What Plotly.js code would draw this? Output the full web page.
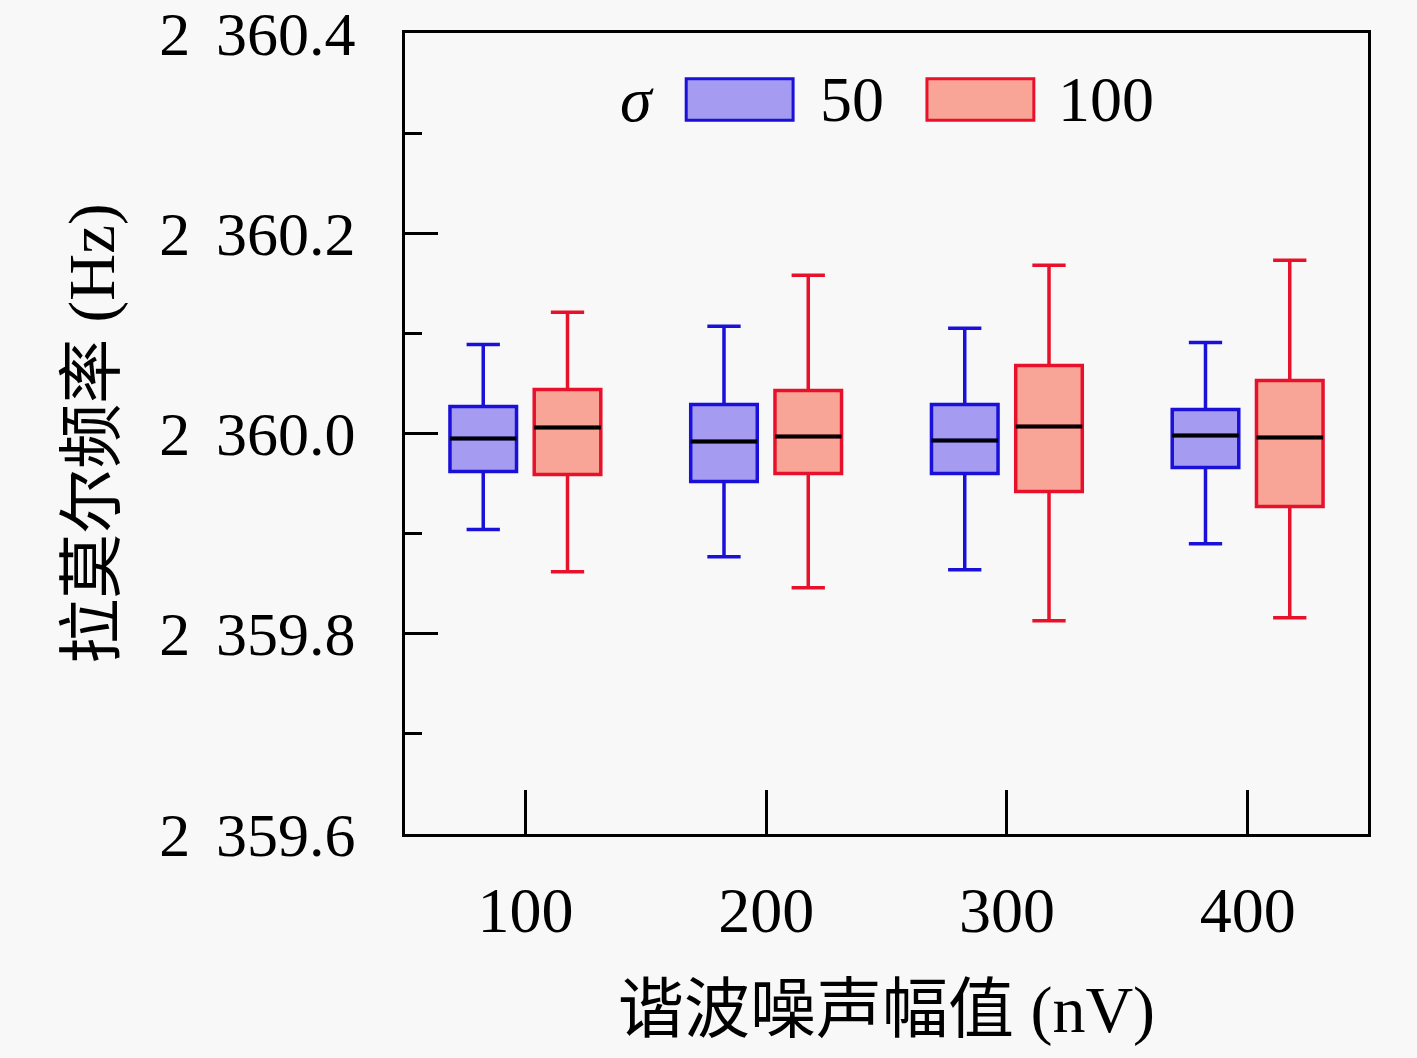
<!DOCTYPE html>
<html>
<head>
<meta charset="utf-8">
<script src="https://cdn.plot.ly/plotly-3.0.1.min.js"></script>
<style>
  html, body { margin: 0; padding: 0; background: #f8f8f8; }
  #chart { width: 1417px; height: 1058px; }
</style>
</head>
<body>
<div id="chart"></div>
<script>
// harmonic noise amplitude (nV)
const categories = ['100', '200', '300', '400'];

// sigma = 50
const s50Lower  = [2359.904, 2359.877, 2359.864, 2359.890];
const s50Q1     = [2359.962, 2359.952, 2359.960, 2359.966];
const s50Median = [2359.995, 2359.992, 2359.993, 2359.998];
const s50Q3     = [2360.027, 2360.029, 2360.029, 2360.024];
const s50Upper  = [2360.089, 2360.107, 2360.105, 2360.091];

// sigma = 100
const s100Lower  = [2359.862, 2359.846, 2359.813, 2359.816];
const s100Q1     = [2359.959, 2359.960, 2359.942, 2359.927];
const s100Median = [2360.006, 2359.997, 2360.007, 2359.996];
const s100Q3     = [2360.044, 2360.043, 2360.068, 2360.053];
const s100Upper  = [2360.121, 2360.158, 2360.168, 2360.173];

const yTickVals = [2359.6, 2359.8, 2360.0, 2360.2, 2360.4];
const yTickText = ['2\u2004\u200A359.6', '2\u2004\u200A359.8', '2\u2004\u200A360.0', '2\u2004\u200A360.2', '2\u2004\u200A360.4'];

const serif = 'Liberation Serif, Noto Sans CJK SC, serif';

const blueLine = '#1a10d8', blueFill = '#a59cf2';
const redLine = '#e8112b', redFill = '#f8a597';

function boxTrace(group, lower, q1, med, q3, upper, line, fill) {
    return {
        type: 'box',
        name: group,
        offsetgroup: group,
        x: categories,
        lowerfence: lower,
        q1: q1,
        median: med,
        q3: q3,
        upperfence: upper,
        line: { color: line, width: 3.5 },
        fillcolor: fill,
        whiskerwidth: 0.5,
        hoverinfo: 'y'
    };
}

// black median bar drawn over each box (degenerate box at the median)
function medianTrace(group, med) {
    return {
        type: 'box',
        name: group + ' median',
        offsetgroup: group,
        x: categories,
        lowerfence: med, q1: med, median: med, q3: med, upperfence: med,
        line: { color: '#000', width: 4 },
        fillcolor: 'rgba(0,0,0,0)',
        whiskerwidth: 0,
        hoverinfo: 'skip'
    };
}

const traces = [
    boxTrace('50', s50Lower, s50Q1, s50Median, s50Q3, s50Upper, blueLine, blueFill),
    boxTrace('100', s100Lower, s100Q1, s100Median, s100Q3, s100Upper, redLine, redFill),
    medianTrace('50', s50Median),
    medianTrace('100', s100Median)
];

const layout = {
    width: 1417,
    height: 1058,
    paper_bgcolor: '#f8f8f8',
    plot_bgcolor: '#f8f8f8',
    margin: { l: 405, r: 49, t: 33, b: 224 },
    boxmode: 'group',
    boxgap: 0.3,
    boxgroupgap: 0.21,
    showlegend: false,
    font: { family: serif, color: '#000', size: 62 },
    xaxis: {
        type: 'category',
        range: [-0.5, 3.5],
        showline: true, mirror: true, linecolor: '#000', linewidth: 3,
        ticks: 'inside', ticklen: 44, tickwidth: 3, tickcolor: '#000',
        tickfont: { family: serif, size: 64 },
        ticklabelstandoff: 18,
        showgrid: false, zeroline: false,
        title: { text: '谐波噪声幅值 (nV)', font: { family: serif, size: 66 }, standoff: 42 }
    },
    yaxis: {
        range: [2359.6, 2360.4],
        tickvals: yTickVals,
        ticktext: yTickText,
        ticklabeloverflow: 'allow',
        showline: true, mirror: true, linecolor: '#000', linewidth: 3,
        ticks: 'inside', ticklen: 33, tickwidth: 3, tickcolor: '#000',
        minor: { dtick: 0.1, ticks: 'inside', ticklen: 17, tickwidth: 3, tickcolor: '#000' },
        tickfont: { family: serif, size: 62 },
        ticklabelstandoff: 34,
        showgrid: false, zeroline: false,
        title: { text: '拉莫尔频率 (Hz)', font: { family: serif, size: 65 }, standoff: 24 }
    },
    // legend drawn as swatches in paper space
    shapes: [
        { type: 'rect', xref: 'paper', yref: 'paper', x0: 0.292, x1: 0.403, y0: 0.891, y1: 0.943,
          line: { color: blueLine, width: 3 }, fillcolor: blueFill },
        { type: 'rect', xref: 'paper', yref: 'paper', x0: 0.542, x1: 0.653, y0: 0.891, y1: 0.943,
          line: { color: redLine, width: 3 }, fillcolor: redFill }
    ],
    annotations: [
        { xref: 'paper', yref: 'paper', x: 0.241, y: 0.917, text: '<i>σ</i>', showarrow: false,
          font: { family: serif, size: 64 }, xanchor: 'center', yanchor: 'middle' },
        { xref: 'paper', yref: 'paper', x: 0.429, y: 0.917, text: '50', showarrow: false,
          font: { family: serif, size: 64 }, xanchor: 'left', yanchor: 'middle' },
        { xref: 'paper', yref: 'paper', x: 0.676, y: 0.917, text: '100', showarrow: false,
          font: { family: serif, size: 64 }, xanchor: 'left', yanchor: 'middle' }
    ]
};

Plotly.newPlot('chart', traces, layout, { displayModeBar: false });
</script>
</body>
</html>
